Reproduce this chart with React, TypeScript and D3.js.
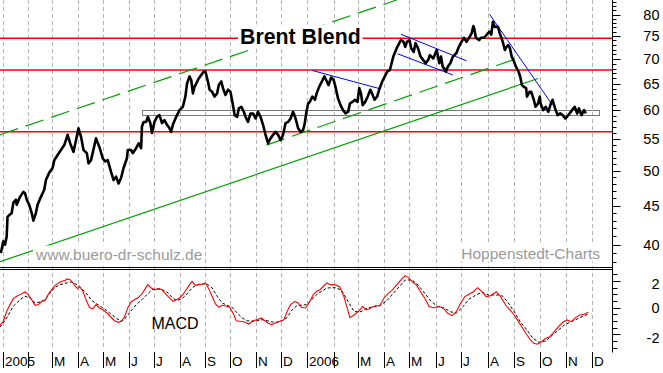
import React, { useEffect, useRef } from 'react';
import * as d3 from 'd3';

type Pt = [string, number];

// Brent Blend closing price (USD)
const brentPrice: Pt[] = [
  ['2004-12-30', 39.0], ['2005-01-02', 40.4], ['2005-01-04', 40.0], ['2005-01-06', 41.0],
  ['2005-01-07', 43.5], ['2005-01-09', 43.7], ['2005-01-12', 44.0], ['2005-01-14', 45.4],
  ['2005-01-17', 45.8], ['2005-01-18', 45.1], ['2005-01-22', 46.2], ['2005-01-26', 46.9],
  ['2005-01-28', 46.7], ['2005-01-30', 45.8], ['2005-02-02', 45.1], ['2005-02-05', 44.0],
  ['2005-02-07', 43.0], ['2005-02-10', 44.0], ['2005-02-12', 45.1], ['2005-02-16', 46.2],
  ['2005-02-20', 47.2], ['2005-02-22', 48.6], ['2005-02-26', 49.7], ['2005-03-02', 50.4],
  ['2005-03-04', 51.6], ['2005-03-08', 52.4], ['2005-03-12', 53.2], ['2005-03-16', 54.0],
  ['2005-03-20', 55.7], ['2005-03-23', 54.3], ['2005-03-27', 52.9], ['2005-03-30', 54.8],
  ['2005-04-02', 56.8], ['2005-04-05', 55.4], ['2005-04-08', 53.2], ['2005-04-12', 52.7],
  ['2005-04-14', 51.1], ['2005-04-17', 51.6], ['2005-04-23', 55.1], ['2005-04-27', 53.7],
  ['2005-05-01', 51.9], ['2005-05-04', 51.4], ['2005-05-07', 51.6], ['2005-05-11', 49.8],
  ['2005-05-14', 48.6], ['2005-05-17', 49.1], ['2005-05-20', 48.1], ['2005-05-23', 48.9],
  ['2005-05-26', 50.4], ['2005-05-30', 51.9], ['2005-05-31', 53.2], ['2005-06-04', 53.2],
  ['2005-06-06', 52.7], ['2005-06-10', 53.5], ['2005-06-13', 54.3], ['2005-06-16', 53.5],
  ['2005-06-17', 57.1], ['2005-06-19', 57.9], ['2005-06-22', 57.9], ['2005-06-24', 58.8],
  ['2005-06-27', 57.7], ['2005-06-29', 56.0], ['2005-07-02', 57.9], ['2005-07-05', 58.8],
  ['2005-07-08', 59.1], ['2005-07-11', 57.7], ['2005-07-14', 58.2], ['2005-07-17', 57.4],
  ['2005-07-20', 56.8], ['2005-07-22', 56.2], ['2005-07-24', 57.4], ['2005-07-28', 58.8],
  ['2005-08-01', 60.0], ['2005-08-05', 60.6], ['2005-08-08', 62.5], ['2005-08-10', 65.0],
  ['2005-08-13', 66.4], ['2005-08-15', 65.7], ['2005-08-17', 63.1], ['2005-08-19', 64.4],
  ['2005-08-21', 65.0], ['2005-08-24', 66.0], ['2005-08-27', 66.7], ['2005-08-30', 67.4],
  ['2005-09-01', 67.4], ['2005-09-04', 65.4], ['2005-09-06', 63.8], ['2005-09-09', 63.4],
  ['2005-09-12', 62.5], ['2005-09-15', 63.1], ['2005-09-17', 64.7], ['2005-09-20', 65.4],
  ['2005-09-22', 64.1], ['2005-09-25', 62.8], ['2005-09-28', 63.8], ['2005-10-01', 63.4],
  ['2005-10-04', 60.9], ['2005-10-06', 59.1], ['2005-10-09', 58.8], ['2005-10-11', 60.3],
  ['2005-10-14', 60.6], ['2005-10-17', 59.7], ['2005-10-19', 58.8], ['2005-10-22', 57.9],
  ['2005-10-25', 59.4], ['2005-10-28', 59.4], ['2005-10-31', 58.5], ['2005-11-03', 59.7],
  ['2005-11-06', 58.8], ['2005-11-09', 57.4], ['2005-11-12', 55.7], ['2005-11-15', 54.3],
  ['2005-11-18', 55.1], ['2005-11-21', 55.7], ['2005-11-24', 56.2], ['2005-11-27', 55.7],
  ['2005-11-30', 54.8], ['2005-12-03', 55.7], ['2005-12-06', 57.7], ['2005-12-09', 57.9],
  ['2005-12-12', 58.5], ['2005-12-15', 59.7], ['2005-12-18', 58.5], ['2005-12-21', 56.8],
  ['2005-12-24', 56.2], ['2005-12-27', 56.5], ['2005-12-29', 57.7], ['2005-12-31', 59.7],
  ['2006-01-02', 61.2], ['2006-01-04', 61.5], ['2006-01-07', 62.5], ['2006-01-10', 61.9],
  ['2006-01-12', 63.1], ['2006-01-15', 64.4], ['2006-01-19', 65.7], ['2006-01-21', 66.4],
  ['2006-01-24', 65.4], ['2006-01-26', 64.7], ['2006-01-29', 66.2], ['2006-02-01', 65.7],
  ['2006-02-03', 64.4], ['2006-02-06', 62.2], ['2006-02-09', 60.9], ['2006-02-12', 60.0],
  ['2006-02-15', 59.4], ['2006-02-18', 59.7], ['2006-02-20', 61.2], ['2006-02-23', 61.5],
  ['2006-02-26', 61.9], ['2006-03-01', 61.5], ['2006-03-03', 64.1], ['2006-03-05', 63.1],
  ['2006-03-07', 60.9], ['2006-03-10', 61.5], ['2006-03-13', 62.5], ['2006-03-16', 63.8],
  ['2006-03-18', 63.1], ['2006-03-21', 61.9], ['2006-03-24', 62.5], ['2006-03-27', 64.1],
  ['2006-03-30', 65.4], ['2006-04-02', 66.4], ['2006-04-05', 67.4], ['2006-04-08', 67.7],
  ['2006-04-10', 69.1], ['2006-04-12', 70.5], ['2006-04-16', 72.3], ['2006-04-19', 73.4],
  ['2006-04-21', 74.1], ['2006-04-24', 73.7], ['2006-04-26', 72.6], ['2006-04-28', 73.7],
  ['2006-05-01', 74.1], ['2006-05-03', 72.3], ['2006-05-06', 71.5], ['2006-05-08', 73.4],
  ['2006-05-11', 72.3], ['2006-05-14', 70.5], ['2006-05-17', 69.8], ['2006-05-20', 69.1],
  ['2006-05-23', 69.8], ['2006-05-25', 70.8], ['2006-05-29', 70.1], ['2006-06-01', 71.5],
  ['2006-06-02', 71.9], ['2006-06-05', 69.1], ['2006-06-07', 70.5], ['2006-06-09', 68.4],
  ['2006-06-12', 67.7], ['2006-06-13', 67.4], ['2006-06-15', 68.4], ['2006-06-18', 69.1],
  ['2006-06-21', 70.5], ['2006-06-25', 71.2], ['2006-06-28', 72.6], ['2006-07-01', 73.7],
  ['2006-07-04', 74.6], ['2006-07-07', 73.7], ['2006-07-10', 74.6], ['2006-07-13', 75.6],
  ['2006-07-15', 77.3], ['2006-07-16', 76.8], ['2006-07-18', 74.6], ['2006-07-22', 74.1],
  ['2006-07-24', 74.6], ['2006-07-27', 74.6], ['2006-07-29', 74.9], ['2006-08-01', 75.6],
  ['2006-08-03', 76.0], ['2006-08-05', 75.3], ['2006-08-07', 78.3], ['2006-08-09', 77.1],
  ['2006-08-13', 77.1], ['2006-08-15', 75.6], ['2006-08-17', 74.6], ['2006-08-19', 73.4],
  ['2006-08-21', 71.9], ['2006-08-23', 72.6], ['2006-08-25', 73.0], ['2006-08-27', 72.3],
  ['2006-08-29', 70.5], ['2006-08-31', 69.8], ['2006-09-03', 68.4], ['2006-09-06', 67.4],
  ['2006-09-08', 66.4], ['2006-09-10', 64.7], ['2006-09-12', 64.4], ['2006-09-15', 64.1],
  ['2006-09-16', 62.5], ['2006-09-19', 63.4], ['2006-09-21', 63.4], ['2006-09-24', 61.9],
  ['2006-09-26', 60.6], ['2006-09-29', 61.2], ['2006-10-01', 62.5], ['2006-10-02', 61.2],
  ['2006-10-05', 60.0], ['2006-10-08', 60.6], ['2006-10-11', 59.7], ['2006-10-14', 61.2],
  ['2006-10-16', 61.9], ['2006-10-19', 60.3], ['2006-10-22', 59.1], ['2006-10-25', 59.4],
  ['2006-10-28', 59.1], ['2006-10-31', 58.5], ['2006-11-02', 58.8], ['2006-11-05', 59.4],
  ['2006-11-08', 60.0], ['2006-11-11', 60.6], ['2006-11-14', 59.4], ['2006-11-16', 60.3],
  ['2006-11-19', 59.1], ['2006-11-22', 60.0], ['2006-11-24', 59.4],
];

// MACD line (red)
const macdValues: Pt[] = [
  ['2004-12-29', -1.32], ['2005-01-02', -1.02], ['2005-01-06', -0.27], ['2005-01-10', 0.23],
  ['2005-01-14', 0.68], ['2005-01-18', 0.86], ['2005-01-22', 0.98], ['2005-01-28', 1.18],
  ['2005-02-01', 0.98], ['2005-02-05', 0.6], ['2005-02-09', 0.18], ['2005-02-13', 0.23],
  ['2005-02-17', 0.48], ['2005-02-21', 0.53], ['2005-02-25', 1.03], ['2005-03-01', 1.35],
  ['2005-03-05', 1.68], ['2005-03-09', 1.86], ['2005-03-13', 1.98], ['2005-03-17', 2.03],
  ['2005-03-19', 2.16], ['2005-03-23', 2.1], ['2005-03-25', 1.98], ['2005-03-29', 1.61],
  ['2005-04-01', 1.43], ['2005-04-03', 1.61], ['2005-04-07', 1.28], ['2005-04-11', 0.6],
  ['2005-04-15', 0.03], ['2005-04-19', -0.08], ['2005-04-23', 0.23], ['2005-04-27', -0.02],
  ['2005-05-01', -0.15], ['2005-05-06', -0.4], ['2005-05-11', -0.72], ['2005-05-15', -0.98],
  ['2005-05-20', -1.1], ['2005-05-23', -1.02], ['2005-05-27', -0.72], ['2005-05-31', -0.02],
  ['2005-06-04', 0.43], ['2005-06-08', 0.6], ['2005-06-13', 0.78], ['2005-06-17', 1.03],
  ['2005-06-21', 1.43], ['2005-06-24', 1.73], ['2005-06-28', 1.48], ['2005-07-02', 1.35],
  ['2005-07-08', 1.43], ['2005-07-12', 1.28], ['2005-07-16', 0.98], ['2005-07-20', 0.73],
  ['2005-07-24', 0.48], ['2005-07-28', 0.6], ['2005-08-01', 0.73], ['2005-08-05', 0.98],
  ['2005-08-09', 1.35], ['2005-08-13', 1.73], ['2005-08-16', 1.98], ['2005-08-20', 1.68],
  ['2005-08-24', 1.73], ['2005-08-29', 1.78], ['2005-09-01', 1.86], ['2005-09-05', 1.43],
  ['2005-09-09', 0.86], ['2005-09-13', 0.28], ['2005-09-17', 0.03], ['2005-09-21', 0.18],
  ['2005-09-26', 0.11], ['2005-09-30', 0.03], ['2005-10-04', -0.4], ['2005-10-08', -0.98],
  ['2005-10-12', -1.02], ['2005-10-18', -1.08], ['2005-10-23', -1.23], ['2005-10-28', -0.98],
  ['2005-11-02', -0.9], ['2005-11-07', -0.77], ['2005-11-11', -0.98], ['2005-11-15', -1.15],
  ['2005-11-19', -1.28], ['2005-11-24', -1.15], ['2005-11-29', -1.02], ['2005-12-04', -0.9],
  ['2005-12-08', -0.27], ['2005-12-12', 0.23], ['2005-12-17', 0.48], ['2005-12-21', 0.35],
  ['2005-12-25', 0.03], ['2005-12-30', -0.02], ['2006-01-03', 0.35], ['2006-01-08', 0.98],
  ['2006-01-12', 1.23], ['2006-01-16', 1.35], ['2006-01-20', 1.61], ['2006-01-24', 1.86],
  ['2006-01-28', 1.73], ['2006-02-03', 1.71], ['2006-02-08', 1.58], ['2006-02-13', 0.83],
  ['2006-02-17', -0.05], ['2006-02-20', -0.75], ['2006-02-25', -0.55], ['2006-03-02', -0.3],
  ['2006-03-07', 0.08], ['2006-03-12', -0.17], ['2006-03-17', 0.0], ['2006-03-22', 0.15],
  ['2006-03-27', 0.15], ['2006-04-01', 0.71], ['2006-04-06', 1.08], ['2006-04-11', 1.33],
  ['2006-04-16', 1.71], ['2006-04-21', 2.08], ['2006-04-26', 2.41], ['2006-04-30', 2.26],
  ['2006-05-04', 1.95], ['2006-05-09', 1.71], ['2006-05-14', 1.2], ['2006-05-19', 0.71],
  ['2006-05-24', 0.08], ['2006-05-29', 0.0], ['2006-06-05', 0.08], ['2006-06-10', -0.05],
  ['2006-06-15', -0.42], ['2006-06-20', -0.6], ['2006-06-25', -0.3], ['2006-06-30', 0.33],
  ['2006-07-05', 0.83], ['2006-07-10', 1.01], ['2006-07-15', 1.2], ['2006-07-20', 1.5],
  ['2006-07-25', 1.2], ['2006-07-30', 0.83], ['2006-08-04', 0.9], ['2006-08-11', 1.2],
  ['2006-08-16', 0.83], ['2006-08-22', 0.2], ['2006-08-27', -0.17], ['2006-09-01', -0.55],
  ['2006-09-06', -1.05], ['2006-09-11', -1.55], ['2006-09-16', -2.05], ['2006-09-20', -2.43],
  ['2006-09-24', -2.68], ['2006-09-28', -2.75], ['2006-10-03', -2.56], ['2006-10-08', -2.3],
  ['2006-10-13', -2.18], ['2006-10-18', -1.8], ['2006-10-23', -1.43], ['2006-10-28', -1.1],
  ['2006-11-02', -0.92], ['2006-11-07', -1.05], ['2006-11-12', -0.75], ['2006-11-17', -0.55],
  ['2006-11-22', -0.5], ['2006-11-27', -0.35],
];

// signal line (black, dashed)
const signalValues: Pt[] = [
  ['2004-12-29', -1.47], ['2005-01-06', -0.77], ['2005-01-14', 0.11], ['2005-01-22', 0.6],
  ['2005-01-28', 0.86], ['2005-02-03', 0.73], ['2005-02-09', 0.35], ['2005-02-15', 0.43],
  ['2005-02-21', 0.6], ['2005-02-27', 1.11], ['2005-03-05', 1.53], ['2005-03-11', 1.73],
  ['2005-03-19', 1.86], ['2005-03-25', 1.93], ['2005-03-31', 1.73], ['2005-04-06', 1.43],
  ['2005-04-12', 1.03], ['2005-04-18', 0.53], ['2005-04-24', 0.28], ['2005-04-30', 0.03],
  ['2005-05-06', -0.23], ['2005-05-12', -0.53], ['2005-05-18', -0.83], ['2005-05-24', -1.02],
  ['2005-05-30', -0.65], ['2005-06-05', -0.15], ['2005-06-11', 0.28], ['2005-06-17', 0.6],
  ['2005-06-23', 0.98], ['2005-06-29', 1.35], ['2005-07-05', 1.43], ['2005-07-11', 1.35],
  ['2005-07-17', 1.18], ['2005-07-23', 0.78], ['2005-07-29', 0.53], ['2005-08-04', 0.68],
  ['2005-08-10', 1.03], ['2005-08-16', 1.48], ['2005-08-22', 1.73], ['2005-08-28', 1.78],
  ['2005-09-03', 1.78], ['2005-09-09', 1.48], ['2005-09-15', 0.86], ['2005-09-21', 0.35],
  ['2005-09-27', 0.18], ['2005-10-03', 0.03], ['2005-10-09', -0.4], ['2005-10-15', -0.77],
  ['2005-10-21', -0.98], ['2005-10-27', -1.02], ['2005-11-02', -0.98], ['2005-11-08', -0.9],
  ['2005-11-14', -0.98], ['2005-11-20', -1.08], ['2005-11-26', -1.08], ['2005-12-02', -0.98],
  ['2005-12-08', -0.72], ['2005-12-14', -0.15], ['2005-12-20', 0.18], ['2005-12-26', 0.18],
  ['2005-12-31', 0.23], ['2006-01-06', 0.6], ['2006-01-12', 0.98], ['2006-01-18', 1.23],
  ['2006-01-24', 1.48], ['2006-02-03', 1.5], ['2006-02-10', 1.33], ['2006-02-18', 0.45],
  ['2006-02-25', -0.3], ['2006-03-05', -0.3], ['2006-03-12', -0.05], ['2006-03-20', 0.08],
  ['2006-03-27', 0.15], ['2006-04-04', 0.5], ['2006-04-11', 1.01], ['2006-04-19', 1.58],
  ['2006-04-26', 2.08], ['2006-05-04', 2.08], ['2006-05-11', 1.71], ['2006-05-19', 1.08],
  ['2006-05-26', 0.5], ['2006-06-03', 0.08], ['2006-06-10', 0.0], ['2006-06-18', -0.3],
  ['2006-06-25', -0.42], ['2006-07-03', 0.08], ['2006-07-10', 0.65], ['2006-07-18', 0.95],
  ['2006-07-25', 1.16], ['2006-08-02', 0.95], ['2006-08-09', 0.95], ['2006-08-17', 0.95],
  ['2006-08-24', 0.45], ['2006-09-01', -0.3], ['2006-09-08', -1.05], ['2006-09-16', -1.68],
  ['2006-09-23', -2.3], ['2006-09-30', -2.6], ['2006-10-08', -2.5], ['2006-10-16', -2.05],
  ['2006-10-23', -1.68], ['2006-10-30', -1.3], ['2006-11-07', -1.05], ['2006-11-14', -0.85],
  ['2006-11-22', -0.6], ['2006-11-27', -0.5],
];

// drawn-in analysis
const horizontalLevels = [74.5, 67.7, 56.2];
const rangeBoxDates = ['2005-06-17', '2006-12-10'];
const rangeBoxPrices = [60.0, 59.1];
const greenSolidTrend: Pt[][] = [
  [['2004-12-29', 38.0], ['2006-09-29', 66.0]],
];
const greenDashedTrends: Pt[][] = [
  [['2004-12-29', 55.7], ['2006-04-16', 83.6]],
  [['2005-11-13', 54.0], ['2006-09-03', 70.0]],
];
const blueTrends: Pt[][] = [
  [['2006-01-07', 67.6], ['2006-03-27', 64.0]],
  [['2006-04-21', 75.4], ['2006-07-07', 69.6]],
  [['2006-04-17', 71.1], ['2006-06-21', 66.7]],
  [['2006-08-03', 80.1], ['2006-10-16', 60.9]],
];

const priceTickLabels = [40, 45, 50, 55, 60, 65, 70, 75, 80];
const macdTickLabels = [-2, 0, 2];
const monthInitials = ['J', 'F', 'M', 'A', 'M', 'J', 'J', 'A', 'S', 'O', 'N', 'D'];

const App: React.FC = () => {
  const svgRef = useRef<SVGSVGElement>(null);

  useEffect(() => {
    if (!svgRef.current) return;
    const svg = d3.select(svgRef.current);
    svg.selectAll('*').remove();

    const font = '"Liberation Sans", Arial, sans-serif';
    const axisX = 612.5;
    const parse = d3.timeParse('%Y-%m-%d');
    const toDate = (s: string) => parse(s) as Date;

    // time axis is calendar based but not perfectly uniform in the original
    const x = d3.scaleTime()
      .domain([new Date(2005, 0, 1), new Date(2006, 0, 1), new Date(2006, 11, 1)])
      .range([2.5, 307.3, 591.7]);
    const y = d3.scaleLog().domain([37.4, 83.6]).range([267, 0]);
    const ym = d3.scaleLinear().domain([-3.33, 2.83]).range([352, 270]);

    const defs = svg.append('defs');
    defs.append('clipPath').attr('id', 'clip-main')
      .append('rect').attr('x', 0).attr('y', 0).attr('width', axisX).attr('height', 267);
    defs.append('clipPath').attr('id', 'clip-macd')
      .append('rect').attr('x', 0).attr('y', 271).attr('width', axisX).attr('height', 81);

    svg.append('rect').attr('width', 663).attr('height', 373).attr('fill', '#fff');

    // monthly dashed grid
    const months = d3.timeMonth.range(new Date(2005, 0, 1), new Date(2006, 11, 2));
    svg.append('g')
      .selectAll('line')
      .data(months)
      .enter()
      .append('line')
      .attr('x1', d => Math.round(x(d)) + 0.5)
      .attr('x2', d => Math.round(x(d)) + 0.5)
      .attr('y1', 0)
      .attr('y2', 349)
      .attr('stroke', '#b4b4b4')
      .attr('stroke-dasharray', '4,3');

    const main = svg.append('g').attr('clip-path', 'url(#clip-main)');

    // horizontal red levels
    main.selectAll('.level')
      .data(horizontalLevels)
      .enter()
      .append('line')
      .attr('x1', 0)
      .attr('x2', axisX)
      .attr('y1', d => y(d))
      .attr('y2', d => y(d))
      .attr('stroke', '#ff0000')
      .attr('stroke-width', 1.6);

    // sideways range box
    const bx0 = x(toDate(rangeBoxDates[0]));
    const bx1 = x(toDate(rangeBoxDates[1]));
    main.append('rect')
      .attr('x', Math.round(bx0) + 0.5)
      .attr('y', Math.round(y(rangeBoxPrices[0])) + 0.5)
      .attr('width', Math.round(bx1 - bx0))
      .attr('height', Math.round(y(rangeBoxPrices[1]) - y(rangeBoxPrices[0])))
      .attr('fill', 'none')
      .attr('stroke', '#7a7a7a')
      .attr('stroke-width', 1);

    const seg = d3.line<Pt>()
      .x(d => x(toDate(d[0])))
      .y(d => y(d[1]));

    main.selectAll('.gsolid')
      .data(greenSolidTrend)
      .enter()
      .append('path')
      .attr('d', seg)
      .attr('fill', 'none')
      .attr('stroke', '#00a000')
      .attr('stroke-width', 1.2);

    main.selectAll('.gdash')
      .data(greenDashedTrends)
      .enter()
      .append('path')
      .attr('d', seg)
      .attr('fill', 'none')
      .attr('stroke', '#00a000')
      .attr('stroke-width', 1.2)
      .attr('stroke-dasharray', '19,8');

    main.selectAll('.blue')
      .data(blueTrends)
      .enter()
      .append('path')
      .attr('d', seg)
      .attr('fill', 'none')
      .attr('stroke', '#0000ff')
      .attr('stroke-width', 1);

    // price
    main.append('path')
      .datum(brentPrice)
      .attr('d', seg)
      .attr('fill', 'none')
      .attr('stroke', '#000')
      .attr('stroke-width', 2.6)
      .attr('stroke-linejoin', 'round');

    // labels with white boxes
    const boxedText = (txt: string, tx: number, ty: number, size: number, weight: string,
      color: string, anchor: string) => {
      const g = svg.append('g');
      const t = g.append('text')
        .attr('x', tx)
        .attr('y', ty)
        .attr('text-anchor', anchor)
        .style('font-family', font)
        .style('font-size', `${size}px`)
        .style('font-weight', weight)
        .attr('fill', color)
        .text(txt);
      const bb = (t.node() as SVGTextElement).getBBox();
      g.insert('rect', 'text')
        .attr('x', bb.x - 2)
        .attr('y', bb.y)
        .attr('width', bb.width + 4)
        .attr('height', bb.height)
        .attr('fill', '#fff');
    };
    boxedText('Brent Blend', 240, 43.5, 21.3, 'bold', '#000', 'start');
    boxedText('www.buero-dr-schulz.de', 36, 259.5, 15.5, 'normal', '#9a9a9a', 'start');
    boxedText('Hoppenstedt-Charts', 600, 258.5, 15.5, 'normal', '#9a9a9a', 'end');

    // panel separator (double line)
    [267.5, 269.5].forEach(yy => {
      svg.append('line')
        .attr('x1', 0).attr('x2', axisX)
        .attr('y1', yy).attr('y2', yy)
        .attr('stroke', '#000');
    });

    // MACD panel
    const macdG = svg.append('g').attr('clip-path', 'url(#clip-macd)');
    const mline = d3.line<Pt>()
      .x(d => x(toDate(d[0])))
      .y(d => ym(d[1]));
    macdG.append('path')
      .datum(signalValues)
      .attr('d', mline)
      .attr('fill', 'none')
      .attr('stroke', '#000')
      .attr('stroke-width', 1)
      .attr('stroke-dasharray', '3,2');
    macdG.append('path')
      .datum(macdValues)
      .attr('d', mline)
      .attr('fill', 'none')
      .attr('stroke', '#ff0000')
      .attr('stroke-width', 1.1);

    svg.append('text')
      .attr('x', 151.5)
      .attr('y', 328.7)
      .style('font-family', font)
      .style('font-size', '16px')
      .attr('fill', '#000')
      .text('MACD');

    // right axis
    svg.append('line')
      .attr('x1', axisX).attr('x2', axisX)
      .attr('y1', 0).attr('y2', 352.5)
      .attr('stroke', '#000');

    const priceMinor = d3.range(38, 84);
    svg.append('g')
      .selectAll('line')
      .data(priceMinor)
      .enter()
      .append('line')
      .attr('x1', axisX)
      .attr('x2', d => axisX + (d % 5 === 0 ? 8 : 4))
      .attr('y1', d => Math.round(y(d)) + 0.5)
      .attr('y2', d => Math.round(y(d)) + 0.5)
      .attr('stroke', '#000');

    svg.append('g')
      .selectAll('text')
      .data(priceTickLabels)
      .enter()
      .append('text')
      .attr('x', 659.5)
      .attr('y', d => y(d))
      .attr('dy', '0.36em')
      .attr('text-anchor', 'end')
      .style('font-family', font)
      .style('font-size', '14.5px')
      .attr('fill', '#000')
      .text(d => d);

    const macdMinor = d3.range(-3, 2.51, 0.5);
    svg.append('g')
      .selectAll('line')
      .data(macdMinor)
      .enter()
      .append('line')
      .attr('x1', axisX)
      .attr('x2', d => axisX + (Math.abs(d % 2) < 1e-9 ? 8 : 5))
      .attr('y1', d => Math.round(ym(d)) + 0.5)
      .attr('y2', d => Math.round(ym(d)) + 0.5)
      .attr('stroke', '#000');

    svg.append('g')
      .selectAll('text')
      .data(macdTickLabels)
      .enter()
      .append('text')
      .attr('x', 659.5)
      .attr('y', d => ym(d) + (d === 0 ? 0 : 3))
      .attr('dy', '0.36em')
      .attr('text-anchor', 'end')
      .style('font-family', font)
      .style('font-size', '14.5px')
      .attr('fill', '#000')
      .text(d => d);

    // month axis along the bottom
    const monthG = svg.append('g');
    monthG.selectAll('line')
      .data(months)
      .enter()
      .append('line')
      .attr('x1', d => Math.round(x(d)) + 0.5)
      .attr('x2', d => Math.round(x(d)) + 0.5)
      .attr('y1', 352)
      .attr('y2', 368)
      .attr('stroke', '#000');
    monthG.selectAll('text')
      .data(months.filter(d => d.getMonth() !== 1))
      .enter()
      .append('text')
      .attr('x', d => Math.round(x(d)) + 2)
      .attr('y', 366)
      .style('font-family', font)
      .style('font-size', '13.5px')
      .attr('fill', '#000')
      .text(d => (d.getMonth() === 0 ? String(d.getFullYear()) : monthInitials[d.getMonth()]));
  }, []);

  return (
    <svg
      ref={svgRef}
      width={663}
      height={373}
      style={{ position: 'absolute', left: 0, top: 0, display: 'block' }}
    ></svg>
  );
};

export default App;
